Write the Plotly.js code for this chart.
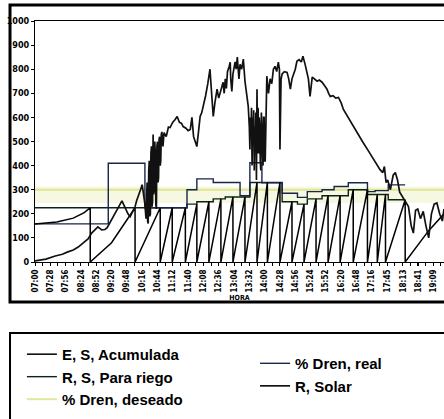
<!DOCTYPE html>
<html>
<head>
<meta charset="utf-8">
<script src="https://cdn.plot.ly/plotly-3.0.1.min.js"></script>
<style>html,body{margin:0;padding:0;background:#fff;}#chart{width:444px;height:419px;}</style>
</head>
<body>
<div id="chart"></div>
<script>
// Time axis labels (HORA)
const tickLabels = ["07:00","07:28","07:56","08:24","08:52","09:20","09:48","10:16","10:44","11:12","11:40","12:08","12:36","13:04","13:32","14:00","14:28","14:56","15:24","15:52","16:20","16:48","17:16","17:45","18:13","18:41","19:09"];

// R, Solar (minutes after 07:00, W/m2)
const solarMin = [0,10,20,37,50,60,70,79,88,97,104,110,115,122,128,132,137,146,152,159,165,170,174,179,183,186,189,193,196,199,201,203,204,205,206,207,208,209,210,211,212,213,214,215,216,217,218,219,220,221,222,223,224,225,226,227,228,229,230,231,232,234,236,240,244,247,252,256,260,264,268,271,276,280,284,287,290,293,296,299,302,305,308,312,316,320,323,326,329,333,336,338,341,344,346,348,350,352,355,357,358,360,362,363,366,368,370,373,375,378,381,384,387,390,392,393,394,395,396,397,398,399,400,401,402,403,404,405,406,407,408,409,410,411,412,413,414,415,416,417,418,419,420,421,424,427,430,433,436,439,442,445,447,448,450,452,456,461,464,467,470,472,476,479,483,487,490,494,497,500,503,505,507,511,516,520,525,530,534,537,540,545,550,555,560,564,570,576,582,590,600,610,619,625,631,636,639,642,645,650,655,659,663,667,672,677,683,688,692,696,700,705,710,715,720,725,730,735,740,745,748];
const solarVal = [5,8,12,25,32,42,50,62,78,96,121,135,146,133,135,142,162,196,225,254,225,200,188,210,229,255,279,300,321,280,240,180,300,330,170,160,380,420,190,200,450,480,230,250,529,280,300,500,454,240,220,480,500,330,350,510,520,400,420,530,540,480,537,520,560,558,580,590,604,580,575,562,555,545,550,600,520,500,479,540,604,620,646,690,740,800,700,604,660,717,680,700,730,746,700,760,720,790,810,829,760,708,780,790,830,800,850,760,820,800,842,750,700,646,560,467,600,520,640,400,600,500,630,380,560,480,620,340,717,450,640,450,600,560,420,380,620,520,450,400,600,600,420,420,771,700,760,740,800,812,790,829,800,467,760,780,790,787,760,717,760,771,800,833,840,830,854,820,787,760,687,740,767,760,750,755,746,730,717,700,687,690,680,683,660,633,610,585,562,530,496,460,425,405,383,371,396,330,340,300,360,371,340,290,270,250,230,150,120,215,220,180,210,150,100,200,240,245,200,170,220];

// E, S, Acumulada (sawtooth, resets at each irrigation)
const accMin = [0,40,70,90,101, 101,140,183, 183,229, 229,251, 251,275, 275,296, 296,318, 318,340, 340,362, 362,384, 384,406, 406,425, 425,448, 448,470, 470,492, 492,514, 514,536, 536,558, 558,582, 582,608, 608,626, 626,641, 641,677, 677,700,720,748];
const accVal = [158,166,182,205,225, 0,80,225, 0,225, 0,225, 0,225, 0,240, 0,250, 0,262, 0,270, 0,270, 0,330, 0,330, 0,330, 0,250, 0,240, 0,262, 0,275, 0,275, 0,300, 0,300, 0,280, 0,280, 0,258, 0,70,130,200];

// R, S, Para riego (step)
const riegoMin = [0,278,296,326,348,393,452,480,498,525,573,608,646,677];
const riegoVal = [225,240,250,262,270,330,250,240,262,275,300,280,258,258];

// % Dren, real (step)
const realMin = [0,134,201,278,296,326,375,393,415,452,480,498,525,547,573,608,622,646,677];
const realVal = [158,410,225,300,345,330,275,412,329,285,268,292,300,313,329,292,296,320,320];

// % Dren, deseado
const deseadoMin = [0,748];
const deseadoVal = [300,300];

const tickMin = tickLabels.map(s => { const p = s.split(":"); return (+p[0])*60 + (+p[1]) - 420; });

const traces = [
  {x: deseadoMin, y: deseadoVal, name: "% Dren, deseado", mode: "lines", line: {color: "rgba(205,215,95,0.6)", width: 2}, legend: "legend", legendrank: 3},
  {x: riegoMin, y: riegoVal, name: "R, S, Para riego", mode: "lines", line: {color: "#0c2418", width: 1.4, shape: "hv"}, legend: "legend", legendrank: 2},
  {x: realMin, y: realVal, name: "% Dren, real", mode: "lines", line: {color: "#18264a", width: 1.4, shape: "hv"}, legend: "legend2", legendrank: 1},
  {x: accMin, y: accVal, name: "E, S, Acumulada", mode: "lines", line: {color: "#000", width: 1.5}, legend: "legend", legendrank: 1},
  {x: solarMin, y: solarVal, name: "R, Solar", mode: "lines", line: {color: "#111", width: 1.7}, legend: "legend2", legendrank: 2}
];

const fam = "Liberation Sans Narrow, Arial Narrow, DejaVu Sans Condensed, Liberation Sans, sans-serif";

const layout = {
  width: 444, height: 419,
  margin: {l: 35, r: 0, t: 21, b: 157},
  paper_bgcolor: "#fff", plot_bgcolor: "#fff",
  showlegend: true,
  xaxis: {
    range: [0, 748], tickmode: "array", tickvals: tickMin, ticktext: tickLabels,
    tickangle: -90, tickfont: {family: fam, size: 8, color: "#000", weight: "bold"},
    ticks: "outside", ticklen: 3, tickcolor: "#000",
    minor: {tickmode: "linear", tick0: 0, dtick: 14, ticks: "outside", ticklen: 3, tickcolor: "#000"},
    showline: true, linecolor: "#000", linewidth: 1.3, mirror: true,
    showgrid: false, zeroline: false,
    title: {text: "HORA", font: {family: fam, size: 7, color: "#000", weight: "bold"}, standoff: 3}
  },
  yaxis: {
    range: [0, 1000], tickvals: [0,100,200,300,400,500,600,700,800,900,1000],
    tickfont: {family: fam, size: 9, color: "#000", weight: "bold"},
    ticks: "outside", ticklen: 3, tickcolor: "#000",
    showline: true, linecolor: "#000", linewidth: 1, showgrid: false, zeroline: false
  },
  legend: {x: -0.032, y: -0.315, xanchor: "left", yanchor: "top", bgcolor: "rgba(0,0,0,0)",
           font: {family: "Liberation Sans, Arial, sans-serif", size: 15, color: "#000", weight: "bold"},
           traceorder: "normal"},
  legend2: {x: 0.538, y: -0.353, xanchor: "left", yanchor: "top", bgcolor: "rgba(0,0,0,0)",
           font: {family: "Liberation Sans, Arial, sans-serif", size: 15, color: "#000", weight: "bold"},
           traceorder: "normal"},
  shapes: [
    {type: "rect", xref: "x", yref: "y", x0: 0, x1: 748, y0: 245, y1: 312, fillcolor: "rgba(238,242,195,0.5)", line: {width: 0}, layer: "below"},
    {type: "rect", xref: "paper", yref: "paper", x0: -0.0611, x1: 1.01, y0: -0.166, y1: 1.066, line: {color: "#000", width: 3}, fillcolor: "rgba(0,0,0,0)"},
    {type: "rect", xref: "paper", yref: "paper", x0: -0.0611, x1: 1.02, y0: -0.68, y1: -0.2946, line: {color: "#000", width: 2}, fillcolor: "rgba(0,0,0,0)"}
  ]
};

Plotly.newPlot("chart", traces, layout, {displayModeBar: false, staticPlot: true});
</script>
</body>
</html>
